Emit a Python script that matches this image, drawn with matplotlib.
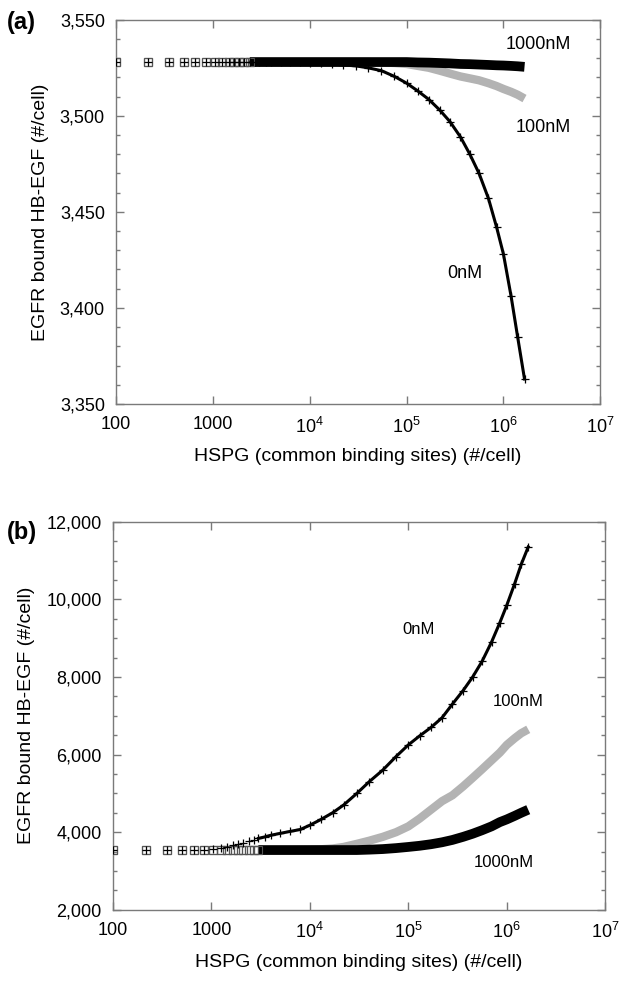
import matplotlib
matplotlib.use('Agg')
import matplotlib.pyplot as plt
from matplotlib.ticker import FixedLocator, MultipleLocator, FuncFormatter, NullLocator
import numpy as np

plt.rcParams['font.family'] = ['Liberation Sans', 'DejaVu Sans']
plt.rcParams['font.size'] = 13
plt.rcParams['mathtext.fontset'] = 'custom'
plt.rcParams['mathtext.rm'] = 'Liberation Sans'

# HSPG values (common binding sites, #/cell)
hspg = [100, 215, 350, 500, 660, 850, 1050, 1250, 1450, 1650, 1850, 2100, 2400, 2700,
        3000, 3500, 4000,
        5000, 6300, 8000, 10000, 13000, 17000, 22000, 30000, 40000, 55000,
        75000, 100000, 130000, 170000, 220000, 280000, 360000, 450000, 560000,
        700000, 850000, 1000000, 1200000, 1400000, 1650000]

# panel (a)
a_0nM = [3528, 3528, 3528, 3528, 3528, 3528, 3528, 3528, 3528, 3528, 3528, 3528, 3528, 3528,
         3528, 3528, 3528,
         3528, 3528, 3528, 3527.5, 3527.3, 3527, 3526.5, 3526, 3525, 3523.5,
         3520.5, 3517, 3513, 3508.5, 3503, 3497, 3489, 3480, 3470,
         3457, 3442, 3428, 3406, 3385, 3363]
a_100nM = [3528, 3528, 3528, 3528, 3528, 3528, 3528, 3528, 3528, 3528, 3528, 3528, 3528, 3528,
           3528, 3528, 3528,
           3528, 3528, 3528, 3528, 3528, 3528, 3528, 3528, 3528, 3527.8,
           3527.5, 3527, 3526, 3525, 3523.5, 3522, 3520.5, 3519.5, 3518.5,
           3517, 3515.5, 3514, 3512.5, 3511, 3509]
a_1000nM = [3528, 3528, 3528, 3528, 3528, 3528, 3528, 3528, 3528, 3528, 3528, 3528, 3528, 3528,
            3528, 3528, 3528,
            3528, 3528, 3528, 3528, 3528, 3528, 3528, 3528, 3528, 3528,
            3528, 3528, 3527.8, 3527.7, 3527.5, 3527.3, 3527, 3526.9, 3526.7,
            3526.5, 3526.3, 3526.2, 3526, 3525.8, 3525.5]

# panel (b)
b_0nM = [3540, 3540, 3540, 3540, 3545, 3550, 3560, 3580, 3620, 3665, 3700, 3730, 3770, 3810,
         3840, 3880, 3920,
         3970, 4020, 4070, 4180, 4330, 4500, 4700, 5000, 5300, 5600,
         5950, 6250, 6480, 6700, 6950, 7300, 7650, 8000, 8400,
         8900, 9400, 9850, 10400, 10900, 11350]
b_100nM = [3540, 3540, 3540, 3540, 3540, 3540, 3540, 3540, 3540, 3540, 3540, 3540, 3540, 3540,
           3540, 3540, 3540,
           3540, 3540, 3545, 3550, 3560, 3580, 3620, 3700, 3780, 3880,
           4000, 4150, 4350, 4580, 4800, 4950, 5180, 5400, 5620,
           5850, 6050, 6250, 6420, 6550, 6650]
b_1000nM = [3540, 3540, 3540, 3540, 3540, 3540, 3540, 3540, 3540, 3540, 3540, 3540, 3540, 3540,
            3540, 3540, 3540,
            3540, 3540, 3540, 3540, 3540, 3540, 3540, 3540, 3550, 3565,
            3590, 3620, 3650, 3690, 3740, 3800, 3880, 3960, 4050,
            4150, 4260, 4330, 4420, 4500, 4580]

series_labels = ['0nM', '100nM', '1000nM']
xtick_vals = [100, 1000, 1e4, 1e5, 1e6, 1e7]
xtick_text = ['100', '1000', r'$\mathregular{10^{4}}$', r'$\mathregular{10^{5}}$',
              r'$\mathregular{10^{6}}$', r'$\mathregular{10^{7}}$']

GRAY = '#b3b3b3'
SPINE = '#7a7a7a'

fig = plt.figure(figsize=(6.24, 9.90), dpi=100)
ax_a = fig.add_axes([0.186, 0.592, 0.776, 0.388])
ax_b = fig.add_axes([0.181, 0.081, 0.789, 0.392])

x = np.array(hspg)


def draw(ax, y0, y100, y1000, start_line):
    dense = x >= start_line
    sparse = x <= start_line
    y0, y100, y1000 = np.array(y0), np.array(y100), np.array(y1000)
    # thick lines stand in for the dense marker bands
    ax.plot(x[dense], y0[dense], color='black', lw=2.2, zorder=2)
    ax.plot(x, y0, ls='none', marker='+', ms=5.5, mew=0.9, color='black', zorder=5)
    ax.plot(x[dense], y100[dense], color=GRAY, lw=6, solid_capstyle='butt', zorder=3)
    ax.plot(x[sparse], y100[sparse], ls='none', marker='s', ms=6, mfc='none', mew=1.0,
            mec='#9a9a9a', zorder=3)
    ax.plot(x[dense], y1000[dense], color='black', lw=7, solid_capstyle='butt', zorder=4)
    ax.plot(x[sparse], y1000[sparse], ls='none', marker='s', ms=6, mfc='none', mew=0.8,
            mec='#555555', zorder=4)


def style(ax, ylo, yhi, ymaj, ymin):
    ax.set_xscale('log')
    ax.set_xlim(100, 1e7)
    ax.set_ylim(ylo, yhi)
    ax.xaxis.set_major_locator(FixedLocator(xtick_vals))
    ax.set_xticklabels(xtick_text)
    ax.xaxis.set_minor_locator(NullLocator())
    ax.yaxis.set_major_locator(MultipleLocator(ymaj))
    ax.yaxis.set_minor_locator(MultipleLocator(ymin))
    ax.yaxis.set_major_formatter(FuncFormatter(lambda v, p: f'{v:,.0f}'))
    ax.tick_params(which='both', direction='in', top=True, right=True,
                   color=SPINE, width=1.0, labelsize=13)
    ax.tick_params(which='major', length=6, pad=8)
    ax.tick_params(which='minor', length=3)
    ax.tick_params(axis='x', pad=9)
    for s in ax.spines.values():
        s.set_color(SPINE)
        s.set_linewidth(1.0)
    ax.set_xlabel('HSPG (common binding sites) (#/cell)', fontsize=14, labelpad=8)
    ax.set_ylabel('EGFR bound HB-EGF (#/cell)', fontsize=14, labelpad=8)


draw(ax_a, a_0nM, a_100nM, a_1000nM, 2400)
style(ax_a, 3350, 3550, 50, 10)
ax_a.text(2.3e6, 3537, series_labels[2], ha='center', va='center', fontsize=13)
ax_a.text(2.6e6, 3494, series_labels[1], ha='center', va='center', fontsize=13)
ax_a.text(4.0e5, 3418, series_labels[0], ha='center', va='center', fontsize=13)

draw(ax_b, b_0nM, b_100nM, b_1000nM, 3000)
style(ax_b, 2000, 12000, 2000, 500)
ax_b.text(9.4e5, 3210, series_labels[2], ha='center', va='center', fontsize=12)
ax_b.text(1.3e6, 7360, series_labels[1], ha='center', va='center', fontsize=12)
ax_b.text(1.26e5, 9220, series_labels[0], ha='center', va='center', fontsize=12)

fig.text(0.011, 1 - 22 / 990, '(a)', fontsize=17, fontweight='bold', va='center')
fig.text(0.011, 1 - 533 / 990, '(b)', fontsize=17, fontweight='bold', va='center')

fig.savefig('out.png', dpi=100)
